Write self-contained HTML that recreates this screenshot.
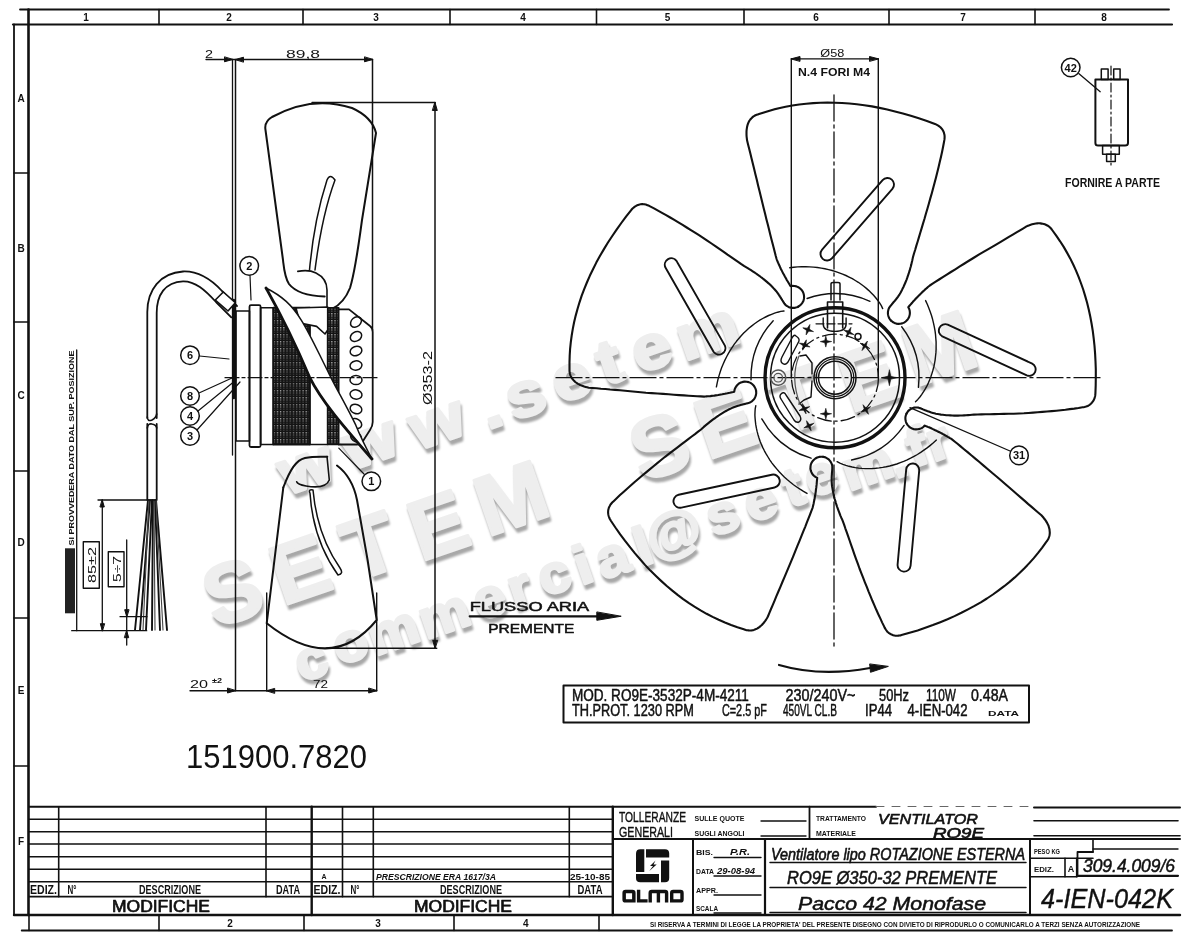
<!DOCTYPE html>
<html><head><meta charset="utf-8"><style>
html,body{margin:0;padding:0;background:#fff;width:1200px;height:942px;overflow:hidden}
svg{display:block}
</style></head><body>
<svg width="1200" height="942" viewBox="0 0 1200 942">
<defs><filter id="blr" x="-10%" y="-10%" width="120%" height="120%"><feGaussianBlur stdDeviation="0.9"/></filter></defs>
<g font-family="'Liberation Sans', sans-serif" font-weight="bold" fill="#a8a8a8" stroke="#a8a8a8" stroke-linejoin="round" filter="url(#blr)"><text transform="translate(288.6,499.8) rotate(-19.0) scale(1.12,1)" font-size="62" stroke-width="3.2">w</text><text transform="translate(352.6,474.8) rotate(-19.0) scale(1.12,1)" font-size="62" stroke-width="3.2">w</text><text transform="translate(419.6,454.8) rotate(-19.0) scale(1.12,1)" font-size="62" stroke-width="3.2">w</text><text transform="translate(489.2,434.0) rotate(-19.0) scale(1.12,1)" font-size="62" stroke-width="3.2">.</text><text transform="translate(515.1,425.2) rotate(-19.0) scale(1.12,1)" font-size="62" stroke-width="3.2">s</text><text transform="translate(560.7,408.3) rotate(-19.0) scale(1.12,1)" font-size="62" stroke-width="3.2">e</text><text transform="translate(606.4,390.1) rotate(-19.0) scale(1.12,1)" font-size="62" stroke-width="3.2">t</text><text transform="translate(640.7,378.3) rotate(-19.0) scale(1.12,1)" font-size="62" stroke-width="3.2">e</text><text transform="translate(685.9,365.4) rotate(-19.0) scale(1.12,1)" font-size="62" stroke-width="3.2">m</text><text transform="translate(217.0,632.7) rotate(-19.0) scale(1.0,1)" font-size="84" stroke-width="3">S</text><text transform="translate(284.4,610.2) rotate(-19.0) scale(1.0,1)" font-size="84" stroke-width="3">E</text><text transform="translate(356.6,586.1) rotate(-19.0) scale(1.0,1)" font-size="84" stroke-width="3">T</text><text transform="translate(422.5,566.0) rotate(-19.0) scale(1.0,1)" font-size="84" stroke-width="3">E</text><text transform="translate(489.1,541.2) rotate(-19.0) scale(1.0,1)" font-size="84" stroke-width="3">M</text><text transform="translate(644.1,486.8) rotate(-19.0) scale(1.0,1)" font-size="84" stroke-width="3">S</text><text transform="translate(709.6,464.3) rotate(-19.0) scale(1.0,1)" font-size="84" stroke-width="3">E</text><text transform="translate(784.9,439.2) rotate(-19.0) scale(1.0,1)" font-size="84" stroke-width="3">T</text><text transform="translate(852.6,417.3) rotate(-19.0) scale(1.0,1)" font-size="84" stroke-width="3">E</text><text transform="translate(917.1,391.2) rotate(-19.0) scale(1.0,1)" font-size="84" stroke-width="3">M</text><text transform="translate(303.3,686.7) rotate(-19.0) scale(1.05,1)" font-size="54" stroke-width="3">c</text><text transform="translate(341.1,670.1) rotate(-19.0) scale(1.05,1)" font-size="54" stroke-width="3">o</text><text transform="translate(376.6,660.5) rotate(-19.0) scale(1.05,1)" font-size="54" stroke-width="3">m</text><text transform="translate(427.6,644.0) rotate(-19.0) scale(1.05,1)" font-size="54" stroke-width="3">m</text><text transform="translate(481.4,625.2) rotate(-19.0) scale(1.05,1)" font-size="54" stroke-width="3">e</text><text transform="translate(516.2,612.8) rotate(-19.0) scale(1.05,1)" font-size="54" stroke-width="3">r</text><text transform="translate(546.3,601.2) rotate(-19.0) scale(1.05,1)" font-size="54" stroke-width="3">c</text><text transform="translate(582.7,589.6) rotate(-19.0) scale(1.05,1)" font-size="54" stroke-width="3">i</text><text transform="translate(604.6,583.9) rotate(-19.0) scale(1.05,1)" font-size="54" stroke-width="3">a</text><text transform="translate(642.7,571.1) rotate(-19.0) scale(1.05,1)" font-size="54" stroke-width="3">l</text><text transform="translate(654.5,563.1) rotate(-19.0) scale(1.05,1)" font-size="54" stroke-width="3">@</text><text transform="translate(714.7,541.1) rotate(-19.0) scale(1.05,1)" font-size="54" stroke-width="3">s</text><text transform="translate(752.4,527.2) rotate(-19.0) scale(1.05,1)" font-size="54" stroke-width="3">e</text><text transform="translate(791.5,512.0) rotate(-19.0) scale(1.05,1)" font-size="54" stroke-width="3">t</text><text transform="translate(812.9,502.2) rotate(-19.0) scale(1.05,1)" font-size="54" stroke-width="3">e</text><text transform="translate(850.6,495.5) rotate(-19.0) scale(1.05,1)" font-size="54" stroke-width="3">m</text><text transform="translate(897.2,482.9) rotate(-19.0) scale(1.05,1)" font-size="54" stroke-width="3">.</text><text transform="translate(915.2,471.7) rotate(-19.0) scale(1.05,1)" font-size="54" stroke-width="3">f</text><text transform="translate(934.7,466.3) rotate(-19.0) scale(1.05,1)" font-size="54" stroke-width="3">r</text></g>
<g font-family="'Liberation Sans', sans-serif" font-weight="bold" fill="#eeeeee" stroke="#eeeeee" stroke-linejoin="round"><text transform="translate(287.1,495.3) rotate(-19.0) scale(1.12,1)" font-size="62" stroke-width="3.2">w</text><text transform="translate(351.1,470.3) rotate(-19.0) scale(1.12,1)" font-size="62" stroke-width="3.2">w</text><text transform="translate(418.1,450.3) rotate(-19.0) scale(1.12,1)" font-size="62" stroke-width="3.2">w</text><text transform="translate(487.7,429.5) rotate(-19.0) scale(1.12,1)" font-size="62" stroke-width="3.2">.</text><text transform="translate(513.6,420.7) rotate(-19.0) scale(1.12,1)" font-size="62" stroke-width="3.2">s</text><text transform="translate(559.2,403.8) rotate(-19.0) scale(1.12,1)" font-size="62" stroke-width="3.2">e</text><text transform="translate(604.9,385.6) rotate(-19.0) scale(1.12,1)" font-size="62" stroke-width="3.2">t</text><text transform="translate(639.2,373.8) rotate(-19.0) scale(1.12,1)" font-size="62" stroke-width="3.2">e</text><text transform="translate(684.4,360.9) rotate(-19.0) scale(1.12,1)" font-size="62" stroke-width="3.2">m</text><text transform="translate(215.5,628.2) rotate(-19.0) scale(1.0,1)" font-size="84" stroke-width="3">S</text><text transform="translate(282.9,605.7) rotate(-19.0) scale(1.0,1)" font-size="84" stroke-width="3">E</text><text transform="translate(355.1,581.6) rotate(-19.0) scale(1.0,1)" font-size="84" stroke-width="3">T</text><text transform="translate(421.0,561.5) rotate(-19.0) scale(1.0,1)" font-size="84" stroke-width="3">E</text><text transform="translate(487.6,536.7) rotate(-19.0) scale(1.0,1)" font-size="84" stroke-width="3">M</text><text transform="translate(642.6,482.3) rotate(-19.0) scale(1.0,1)" font-size="84" stroke-width="3">S</text><text transform="translate(708.1,459.8) rotate(-19.0) scale(1.0,1)" font-size="84" stroke-width="3">E</text><text transform="translate(783.4,434.7) rotate(-19.0) scale(1.0,1)" font-size="84" stroke-width="3">T</text><text transform="translate(851.1,412.8) rotate(-19.0) scale(1.0,1)" font-size="84" stroke-width="3">E</text><text transform="translate(915.6,386.7) rotate(-19.0) scale(1.0,1)" font-size="84" stroke-width="3">M</text><text transform="translate(301.8,682.2) rotate(-19.0) scale(1.05,1)" font-size="54" stroke-width="3">c</text><text transform="translate(339.6,665.6) rotate(-19.0) scale(1.05,1)" font-size="54" stroke-width="3">o</text><text transform="translate(375.1,656.0) rotate(-19.0) scale(1.05,1)" font-size="54" stroke-width="3">m</text><text transform="translate(426.1,639.5) rotate(-19.0) scale(1.05,1)" font-size="54" stroke-width="3">m</text><text transform="translate(479.9,620.7) rotate(-19.0) scale(1.05,1)" font-size="54" stroke-width="3">e</text><text transform="translate(514.7,608.3) rotate(-19.0) scale(1.05,1)" font-size="54" stroke-width="3">r</text><text transform="translate(544.8,596.7) rotate(-19.0) scale(1.05,1)" font-size="54" stroke-width="3">c</text><text transform="translate(581.2,585.1) rotate(-19.0) scale(1.05,1)" font-size="54" stroke-width="3">i</text><text transform="translate(603.1,579.4) rotate(-19.0) scale(1.05,1)" font-size="54" stroke-width="3">a</text><text transform="translate(641.2,566.6) rotate(-19.0) scale(1.05,1)" font-size="54" stroke-width="3">l</text><text transform="translate(653.0,558.6) rotate(-19.0) scale(1.05,1)" font-size="54" stroke-width="3">@</text><text transform="translate(713.2,536.6) rotate(-19.0) scale(1.05,1)" font-size="54" stroke-width="3">s</text><text transform="translate(750.9,522.7) rotate(-19.0) scale(1.05,1)" font-size="54" stroke-width="3">e</text><text transform="translate(790.0,507.5) rotate(-19.0) scale(1.05,1)" font-size="54" stroke-width="3">t</text><text transform="translate(811.4,497.7) rotate(-19.0) scale(1.05,1)" font-size="54" stroke-width="3">e</text><text transform="translate(849.1,491.0) rotate(-19.0) scale(1.05,1)" font-size="54" stroke-width="3">m</text><text transform="translate(895.7,478.4) rotate(-19.0) scale(1.05,1)" font-size="54" stroke-width="3">.</text><text transform="translate(913.7,467.2) rotate(-19.0) scale(1.05,1)" font-size="54" stroke-width="3">f</text><text transform="translate(933.2,461.8) rotate(-19.0) scale(1.05,1)" font-size="54" stroke-width="3">r</text></g>
<g fill="none" stroke="#111" stroke-linecap="round" stroke-linejoin="round">
<line x1="20" y1="9.5" x2="1169" y2="9.5" stroke-width="1.8" />
<line x1="13" y1="24.5" x2="1172" y2="24.5" stroke-width="2.2" />
<line x1="28.5" y1="9.5" x2="28.5" y2="915" stroke-width="2.6" />
<line x1="14" y1="24.5" x2="14" y2="915" stroke-width="1.8" />
<line x1="14" y1="173" x2="28.5" y2="173" stroke-width="1.6" />
<line x1="14" y1="322" x2="28.5" y2="322" stroke-width="1.6" />
<line x1="14" y1="471" x2="28.5" y2="471" stroke-width="1.6" />
<line x1="14" y1="618" x2="28.5" y2="618" stroke-width="1.6" />
<line x1="14" y1="766" x2="28.5" y2="766" stroke-width="1.6" />
<line x1="159" y1="9.5" x2="159" y2="24.5" stroke-width="1.6" />
<line x1="303" y1="9.5" x2="303" y2="24.5" stroke-width="1.6" />
<line x1="450" y1="9.5" x2="450" y2="24.5" stroke-width="1.6" />
<line x1="596.5" y1="9.5" x2="596.5" y2="24.5" stroke-width="1.6" />
<line x1="744" y1="9.5" x2="744" y2="24.5" stroke-width="1.6" />
<line x1="889" y1="9.5" x2="889" y2="24.5" stroke-width="1.6" />
<line x1="1035" y1="9.5" x2="1035" y2="24.5" stroke-width="1.6" />
<text  x="86" y="21" font-size="10" font-weight="bold" font-style="normal" font-family="'Liberation Sans', sans-serif" text-anchor="middle" fill="#111" stroke="none">1</text>
<text  x="229" y="21" font-size="10" font-weight="bold" font-style="normal" font-family="'Liberation Sans', sans-serif" text-anchor="middle" fill="#111" stroke="none">2</text>
<text  x="376" y="21" font-size="10" font-weight="bold" font-style="normal" font-family="'Liberation Sans', sans-serif" text-anchor="middle" fill="#111" stroke="none">3</text>
<text  x="523" y="21" font-size="10" font-weight="bold" font-style="normal" font-family="'Liberation Sans', sans-serif" text-anchor="middle" fill="#111" stroke="none">4</text>
<text  x="667.5" y="21" font-size="10" font-weight="bold" font-style="normal" font-family="'Liberation Sans', sans-serif" text-anchor="middle" fill="#111" stroke="none">5</text>
<text  x="816" y="21" font-size="10" font-weight="bold" font-style="normal" font-family="'Liberation Sans', sans-serif" text-anchor="middle" fill="#111" stroke="none">6</text>
<text  x="963" y="21" font-size="10" font-weight="bold" font-style="normal" font-family="'Liberation Sans', sans-serif" text-anchor="middle" fill="#111" stroke="none">7</text>
<text  x="1104" y="21" font-size="10" font-weight="bold" font-style="normal" font-family="'Liberation Sans', sans-serif" text-anchor="middle" fill="#111" stroke="none">8</text>
<text  x="21" y="102" font-size="10" font-weight="bold" font-style="normal" font-family="'Liberation Sans', sans-serif" text-anchor="middle" fill="#111" stroke="none">A</text>
<text  x="21" y="252" font-size="10" font-weight="bold" font-style="normal" font-family="'Liberation Sans', sans-serif" text-anchor="middle" fill="#111" stroke="none">B</text>
<text  x="21" y="399" font-size="10" font-weight="bold" font-style="normal" font-family="'Liberation Sans', sans-serif" text-anchor="middle" fill="#111" stroke="none">C</text>
<text  x="21" y="546" font-size="10" font-weight="bold" font-style="normal" font-family="'Liberation Sans', sans-serif" text-anchor="middle" fill="#111" stroke="none">D</text>
<text  x="21" y="694" font-size="10" font-weight="bold" font-style="normal" font-family="'Liberation Sans', sans-serif" text-anchor="middle" fill="#111" stroke="none">E</text>
<text  x="21" y="845" font-size="10" font-weight="bold" font-style="normal" font-family="'Liberation Sans', sans-serif" text-anchor="middle" fill="#111" stroke="none">F</text>
<line x1="14" y1="915" x2="1180" y2="915" stroke-width="2.4" />
<line x1="21.7" y1="930.5" x2="1172" y2="930.5" stroke-width="1.8" />
<line x1="29" y1="915" x2="29" y2="930.5" stroke-width="1.6" />
<line x1="159" y1="915" x2="159" y2="930.5" stroke-width="1.6" />
<line x1="304" y1="915" x2="304" y2="930.5" stroke-width="1.6" />
<line x1="454" y1="915" x2="454" y2="930.5" stroke-width="1.6" />
<line x1="599" y1="915" x2="599" y2="930.5" stroke-width="1.6" />
<text  x="230" y="927" font-size="10" font-weight="bold" font-style="normal" font-family="'Liberation Sans', sans-serif" text-anchor="middle" fill="#111" stroke="none">2</text>
<text  x="378" y="927" font-size="10" font-weight="bold" font-style="normal" font-family="'Liberation Sans', sans-serif" text-anchor="middle" fill="#111" stroke="none">3</text>
<text  x="525.7" y="927" font-size="10" font-weight="bold" font-style="normal" font-family="'Liberation Sans', sans-serif" text-anchor="middle" fill="#111" stroke="none">4</text>
<text  x="650" y="926.5" font-size="7" font-weight="bold" font-style="normal" font-family="'Liberation Sans', sans-serif" text-anchor="start" textLength="490" lengthAdjust="spacingAndGlyphs" fill="#111" stroke="none">SI RISERVA A TERMINI DI LEGGE LA PROPRIETA' DEL PRESENTE DISEGNO CON DIVIETO DI RIPRODURLO O COMUNICARLO A TERZI SENZA AUTORIZZAZIONE</text>
<line x1="29" y1="806.7" x2="876" y2="806.7" stroke-width="2.0" />
<line x1="876" y1="806.5" x2="1034" y2="806.5" stroke-width="1.0" stroke-dasharray="8 8" stroke="#666"/>
<line x1="1034" y1="807.5" x2="1180" y2="807.5" stroke-width="2.0" />
<line x1="29" y1="819.3" x2="612.3" y2="819.3" stroke-width="1.5" />
<line x1="29" y1="831.7" x2="612.3" y2="831.7" stroke-width="1.5" />
<line x1="29" y1="844" x2="612.3" y2="844" stroke-width="1.5" />
<line x1="29" y1="856.7" x2="612.3" y2="856.7" stroke-width="1.5" />
<line x1="29" y1="869.3" x2="612.3" y2="869.3" stroke-width="1.5" />
<line x1="29" y1="881.7" x2="612.3" y2="881.7" stroke-width="1.5" />
<line x1="29" y1="896.7" x2="612.3" y2="896.7" stroke-width="1.8" />
<line x1="58.7" y1="806.7" x2="58.7" y2="896.7" stroke-width="1.6" />
<line x1="266" y1="806.7" x2="266" y2="896.7" stroke-width="1.6" />
<line x1="342.5" y1="806.7" x2="342.5" y2="896.7" stroke-width="1.6" />
<line x1="373.3" y1="806.7" x2="373.3" y2="896.7" stroke-width="1.6" />
<line x1="569.3" y1="806.7" x2="569.3" y2="896.7" stroke-width="1.6" />
<line x1="311.7" y1="806.7" x2="311.7" y2="915" stroke-width="2.4" />
<line x1="612.8" y1="806.7" x2="612.8" y2="915" stroke-width="2.4" />
<text  x="43.5" y="894" font-size="12" font-weight="bold" font-style="normal" font-family="'Liberation Sans', sans-serif" text-anchor="middle" textLength="27" lengthAdjust="spacingAndGlyphs" fill="#111" stroke="none">EDIZ.</text>
<text  x="72" y="894" font-size="12" font-weight="bold" font-style="normal" font-family="'Liberation Sans', sans-serif" text-anchor="middle" textLength="9" lengthAdjust="spacingAndGlyphs" fill="#111" stroke="none">N°</text>
<text  x="170" y="894" font-size="12" font-weight="bold" font-style="normal" font-family="'Liberation Sans', sans-serif" text-anchor="middle" textLength="62" lengthAdjust="spacingAndGlyphs" fill="#111" stroke="none">DESCRIZIONE</text>
<text  x="288" y="894" font-size="12" font-weight="bold" font-style="normal" font-family="'Liberation Sans', sans-serif" text-anchor="middle" textLength="24" lengthAdjust="spacingAndGlyphs" fill="#111" stroke="none">DATA</text>
<text  x="327" y="894" font-size="12" font-weight="bold" font-style="normal" font-family="'Liberation Sans', sans-serif" text-anchor="middle" textLength="27" lengthAdjust="spacingAndGlyphs" fill="#111" stroke="none">EDIZ.</text>
<text  x="355" y="894" font-size="12" font-weight="bold" font-style="normal" font-family="'Liberation Sans', sans-serif" text-anchor="middle" textLength="9" lengthAdjust="spacingAndGlyphs" fill="#111" stroke="none">N°</text>
<text  x="471" y="894" font-size="12" font-weight="bold" font-style="normal" font-family="'Liberation Sans', sans-serif" text-anchor="middle" textLength="62" lengthAdjust="spacingAndGlyphs" fill="#111" stroke="none">DESCRIZIONE</text>
<text  x="590" y="894" font-size="12" font-weight="bold" font-style="normal" font-family="'Liberation Sans', sans-serif" text-anchor="middle" textLength="25" lengthAdjust="spacingAndGlyphs" fill="#111" stroke="none">DATA</text>
<text stroke="#111" stroke-width="0.7" x="161" y="912" font-size="16" font-weight="normal" font-style="normal" font-family="'Liberation Sans', sans-serif" text-anchor="middle" textLength="98" lengthAdjust="spacingAndGlyphs" fill="#111" stroke="none">MODIFICHE</text>
<text stroke="#111" stroke-width="0.7" x="463" y="912" font-size="16" font-weight="normal" font-style="normal" font-family="'Liberation Sans', sans-serif" text-anchor="middle" textLength="98" lengthAdjust="spacingAndGlyphs" fill="#111" stroke="none">MODIFICHE</text>
<text  x="324" y="879" font-size="7" font-weight="bold" font-style="normal" font-family="'Liberation Sans', sans-serif" text-anchor="middle" fill="#111" stroke="none">A</text>
<text  x="376" y="879.5" font-size="9.2" font-weight="bold" font-style="italic" font-family="'Liberation Sans', sans-serif" text-anchor="start" textLength="120" lengthAdjust="spacingAndGlyphs" fill="#111" stroke="none">PRESCRIZIONE ERA 1617/3A</text>
<text  x="590" y="879.5" font-size="9.5" font-weight="bold" font-style="normal" font-family="'Liberation Sans', sans-serif" text-anchor="middle" textLength="40" lengthAdjust="spacingAndGlyphs" fill="#111" stroke="none">25-10-85</text>
<line x1="612.8" y1="839" x2="1180" y2="839" stroke-width="2.0" />
<line x1="693" y1="839" x2="693" y2="915" stroke-width="2.0" />
<line x1="765" y1="839" x2="765" y2="915" stroke-width="2.2" />
<line x1="809.5" y1="806.7" x2="809.5" y2="839" stroke-width="1.8" />
<line x1="1030" y1="839" x2="1030" y2="915" stroke-width="2.0" />
<text stroke="#111" stroke-width="0.4" x="619" y="821.5" font-size="14.5" font-weight="normal" font-style="normal" font-family="'Liberation Sans', sans-serif" text-anchor="start" textLength="67" lengthAdjust="spacingAndGlyphs" fill="#111" stroke="none">TOLLERANZE</text>
<text stroke="#111" stroke-width="0.4" x="619" y="836.5" font-size="14.5" font-weight="normal" font-style="normal" font-family="'Liberation Sans', sans-serif" text-anchor="start" textLength="54" lengthAdjust="spacingAndGlyphs" fill="#111" stroke="none">GENERALI</text>
<text  x="694.5" y="821" font-size="8" font-weight="bold" font-style="normal" font-family="'Liberation Sans', sans-serif" text-anchor="start" textLength="50" lengthAdjust="spacingAndGlyphs" fill="#111" stroke="none">SULLE QUOTE</text>
<text  x="694.5" y="836" font-size="8" font-weight="bold" font-style="normal" font-family="'Liberation Sans', sans-serif" text-anchor="start" textLength="50" lengthAdjust="spacingAndGlyphs" fill="#111" stroke="none">SUGLI ANGOLI</text>
<line x1="761" y1="821" x2="806" y2="821" stroke-width="1.4" />
<line x1="761" y1="836" x2="806" y2="836" stroke-width="1.4" />
<text  x="816" y="821" font-size="8" font-weight="bold" font-style="normal" font-family="'Liberation Sans', sans-serif" text-anchor="start" textLength="50" lengthAdjust="spacingAndGlyphs" fill="#111" stroke="none">TRATTAMENTO</text>
<text  x="816" y="836" font-size="8" font-weight="bold" font-style="normal" font-family="'Liberation Sans', sans-serif" text-anchor="start" textLength="40" lengthAdjust="spacingAndGlyphs" fill="#111" stroke="none">MATERIALE</text>
<text stroke="#111" stroke-width="0.6" x="878" y="823.5" font-size="15" font-weight="normal" font-style="italic" font-family="'Liberation Sans', sans-serif" text-anchor="start" textLength="100" lengthAdjust="spacingAndGlyphs" fill="#111" stroke="none">VENTILATOR</text>
<text stroke="#111" stroke-width="0.6" x="933" y="838" font-size="14" font-weight="normal" font-style="italic" font-family="'Liberation Sans', sans-serif" text-anchor="start" textLength="51" lengthAdjust="spacingAndGlyphs" fill="#111" stroke="none">RO9E</text>
<line x1="1034" y1="820.8" x2="1178" y2="820.8" stroke-width="1.6" />
<line x1="1034" y1="835.8" x2="1180" y2="835.8" stroke-width="1.6" />
<g fill="#111" stroke="none">
<path d="M644.3 849.2 L644.3 872 L636 872 L636 853.5 Q636 849.2 640.3 849.2 Z"/>
<path d="M646 849.2 L665 849.2 Q669.2 849.2 669.2 853.5 L669.2 857.5 L646 857.5 Z"/>
<path d="M661 860.4 L669.2 860.4 L669.2 878 Q669.2 882.3 665 882.3 L661 882.3 Z"/>
<path d="M636 874 L659 874 L659 882.3 L640.3 882.3 Q636 882.3 636 878 Z"/>
<path d="M655.5 860.4 L650 866 L653 866 L649.3 871.1 L656.7 864.5 L653.5 864.5 Z"/>
<path d="M622.4 893 Q622.4 889.8 625.6 889.8 L632.4 889.8 Q635.6 889.8 635.6 893 L635.6 902.6 L625.6 902.6 Q622.4 902.6 622.4 899.4 Z M625.9 893.2 L625.9 899.3 L632.1 899.3 L632.1 893.2 Z" fill-rule="evenodd"/>
<path d="M636.9 889.8 L640.3 889.8 L640.3 899.3 L647.6 899.3 L647.6 902.6 L636.9 902.6 Z"/>
<path d="M648.5 902.6 L648.5 893 Q648.5 889.8 651.7 889.8 L665.1 889.8 Q668.3 889.8 668.3 893 L668.3 902.6 L664.9 902.6 L664.9 893.2 L660.1 893.2 L660.1 902.6 L656.7 902.6 L656.7 893.2 L651.9 893.2 L651.9 902.6 Z"/>
<path d="M670 893 Q670 889.8 673.2 889.8 L680.5 889.8 Q683.7 889.8 683.7 893 L683.7 899.4 Q683.7 902.6 680.5 902.6 L673.2 902.6 L673.2 899.3 L680.3 899.3 L680.3 893.2 L673.4 893.2 L673.4 902.6 L670 902.6 Z"/>
</g>
<text  x="696" y="855" font-size="8" font-weight="bold" font-style="normal" font-family="'Liberation Sans', sans-serif" text-anchor="start" textLength="17" lengthAdjust="spacingAndGlyphs" fill="#111" stroke="none">BIS.</text>
<text  x="696" y="874" font-size="8" font-weight="bold" font-style="normal" font-family="'Liberation Sans', sans-serif" text-anchor="start" textLength="18" lengthAdjust="spacingAndGlyphs" fill="#111" stroke="none">DATA</text>
<text  x="696" y="893" font-size="8" font-weight="bold" font-style="normal" font-family="'Liberation Sans', sans-serif" text-anchor="start" textLength="22" lengthAdjust="spacingAndGlyphs" fill="#111" stroke="none">APPR.</text>
<text  x="696" y="911" font-size="8" font-weight="bold" font-style="normal" font-family="'Liberation Sans', sans-serif" text-anchor="start" textLength="22" lengthAdjust="spacingAndGlyphs" fill="#111" stroke="none">SCALA</text>
<line x1="714" y1="857.5" x2="761" y2="857.5" stroke-width="1.4" />
<line x1="714" y1="876" x2="761" y2="876" stroke-width="1.4" />
<line x1="714" y1="895" x2="761" y2="895" stroke-width="1.4" />
<line x1="714" y1="913" x2="761" y2="913" stroke-width="1.4" />
<text  x="740" y="855" font-size="9" font-weight="bold" font-style="italic" font-family="'Liberation Sans', sans-serif" text-anchor="middle" textLength="20" lengthAdjust="spacingAndGlyphs" fill="#111" stroke="none">P.R.</text>
<text  x="736" y="874" font-size="8.5" font-weight="bold" font-style="italic" font-family="'Liberation Sans', sans-serif" text-anchor="middle" textLength="38" lengthAdjust="spacingAndGlyphs" fill="#111" stroke="none">29-08-94</text>
<text stroke="#111" stroke-width="0.6" x="771" y="859.5" font-size="17" font-weight="normal" font-style="italic" font-family="'Liberation Sans', sans-serif" text-anchor="start" textLength="254" lengthAdjust="spacingAndGlyphs" fill="#111" stroke="none">Ventilatore lipo ROTAZIONE ESTERNA</text>
<line x1="770" y1="862.5" x2="1026" y2="862.5" stroke-width="1.5" />
<text stroke="#111" stroke-width="0.5" x="787" y="884" font-size="18" font-weight="normal" font-style="italic" font-family="'Liberation Sans', sans-serif" text-anchor="start" textLength="210" lengthAdjust="spacingAndGlyphs" fill="#111" stroke="none">RO9E Ø350-32 PREMENTE</text>
<line x1="770" y1="887.5" x2="1026" y2="887.5" stroke-width="1.5" />
<text stroke="#111" stroke-width="0.5" x="798" y="909.5" font-size="18" font-weight="normal" font-style="italic" font-family="'Liberation Sans', sans-serif" text-anchor="start" textLength="188" lengthAdjust="spacingAndGlyphs" fill="#111" stroke="none">Pacco 42 Monofase</text>
<line x1="770" y1="912.5" x2="1026" y2="912.5" stroke-width="1.5" />
<line x1="1030" y1="858.3" x2="1093" y2="858.3" stroke-width="1.6" />
<line x1="1093" y1="839" x2="1093" y2="852" stroke-width="1.6" />
<line x1="1030" y1="876.7" x2="1077" y2="876.7" stroke-width="1.6" />
<line x1="1065" y1="858.3" x2="1065" y2="876.7" stroke-width="1.6" />
<line x1="1076.7" y1="858.3" x2="1076.7" y2="876.7" stroke-width="1.6" />
<line x1="1093" y1="849" x2="1178" y2="849" stroke-width="1.4" />
<text  x="1034" y="854" font-size="7" font-weight="bold" font-style="normal" font-family="'Liberation Sans', sans-serif" text-anchor="start" textLength="26" lengthAdjust="spacingAndGlyphs" fill="#111" stroke="none">PESO KG</text>
<text  x="1034" y="872" font-size="7" font-weight="bold" font-style="normal" font-family="'Liberation Sans', sans-serif" text-anchor="start" textLength="20" lengthAdjust="spacingAndGlyphs" fill="#111" stroke="none">EDIZ.</text>
<text  x="1071" y="872" font-size="9" font-weight="bold" font-style="normal" font-family="'Liberation Sans', sans-serif" text-anchor="middle" fill="#111" stroke="none">A</text>
<path d="M1077.5 876 L1077.5 852 L1093 852" stroke-width="1.8"/>
<line x1="1077.5" y1="875.8" x2="1178" y2="875.8" stroke-width="2.2" />
<text stroke="#111" stroke-width="0.5" x="1083" y="872" font-size="18" font-weight="normal" font-style="italic" font-family="'Liberation Sans', sans-serif" text-anchor="start" textLength="92" lengthAdjust="spacingAndGlyphs" fill="#111" stroke="none">309.4.009/6</text>
<text stroke="#111" stroke-width="0.4" x="1041" y="908" font-size="27" font-weight="normal" font-style="italic" font-family="'Liberation Sans', sans-serif" text-anchor="start" textLength="132" lengthAdjust="spacingAndGlyphs" fill="#111" stroke="none">4-IEN-042K</text>
<path d="M798.2 306.7 L799.8 305.6 L801.3 304.2 L802.5 302.6 L803.4 300.9 L803.9 298.9 L804.1 297.0 L803.9 295.0 L803.4 293.1 L802.6 291.3 L801.4 289.7 L799.9 288.3 L798.3 287.2 L796.4 286.4 L794.5 286.0 L792.5 285.9 L790.6 286.2 L790.0 285.3 L789.4 284.3 L788.8 283.3 L788.2 282.3 L787.6 281.3 L786.9 280.2 L786.3 279.1 L785.7 277.9 L785.0 276.8 L784.4 275.6 L783.8 274.5 L783.1 273.3 L782.5 272.1 L781.9 270.9 L781.3 269.7 L780.7 268.5 L780.1 267.2 L779.6 266.0 L779.0 264.8 L778.5 263.6 L778.0 262.5 L777.5 261.3 L777.0 260.1 L776.6 259.0 L775.7 255.8 L774.8 252.2 L773.8 248.3 L772.7 244.1 L771.5 239.6 L770.3 234.8 L769.1 229.8 L767.8 224.6 L766.4 219.2 L765.1 213.8 L763.7 208.2 L762.3 202.5 L760.9 196.8 L759.5 191.1 L758.1 185.4 L756.8 179.7 L755.4 174.2 L754.1 168.7 L752.8 163.4 L751.5 158.3 L750.3 153.3 L749.1 148.6 L748.0 144.2 L747.0 140.0 L746.8 138.2 L746.6 136.5 L746.5 134.8 L746.5 133.2 L746.5 131.6 L746.6 130.1 L746.8 128.7 L747.0 127.3 L747.3 126.0 L747.6 124.8 L748.0 123.6 L748.5 122.5 L749.0 121.4 L749.6 120.5 L750.3 119.5 L751.0 118.7 L751.8 117.9 L752.6 117.1 L753.5 116.4 L754.5 115.8 L755.5 115.3 L756.6 114.8 L757.8 114.4 L759.0 114.0 L765.5 111.9 L772.1 109.9 L778.8 108.2 L785.6 106.8 L792.4 105.5 L799.2 104.5 L806.2 103.7 L813.2 103.1 L820.3 102.8 L827.5 102.6 L834.7 102.7 L842.0 103.0 L849.4 103.5 L856.8 104.3 L864.3 105.2 L871.9 106.4 L879.5 107.9 L887.2 109.5 L895.0 111.4 L902.9 113.4 L910.8 115.8 L918.8 118.3 L926.9 121.0 L935.0 124.0 L936.0 124.4 L936.9 124.9 L937.8 125.4 L938.6 125.9 L939.3 126.4 L940.1 127.0 L940.7 127.6 L941.3 128.2 L941.9 128.9 L942.4 129.6 L942.8 130.3 L943.2 131.0 L943.6 131.8 L943.9 132.6 L944.1 133.4 L944.3 134.2 L944.5 135.1 L944.6 136.0 L944.6 136.9 L944.6 137.9 L944.5 138.9 L944.4 139.9 L944.2 140.9 L944.0 142.0 L943.1 146.8 L942.1 151.7 L941.0 156.7 L939.8 161.8 L938.6 167.0 L937.3 172.2 L936.0 177.4 L934.6 182.7 L933.2 188.0 L931.8 193.2 L930.3 198.4 L928.9 203.6 L927.4 208.8 L925.9 213.8 L924.5 218.8 L923.0 223.6 L921.6 228.4 L920.2 233.0 L918.9 237.4 L917.6 241.7 L916.3 245.9 L915.2 249.8 L914.0 253.5 L913.0 257.0 L912.6 258.9 L912.2 260.8 L911.7 262.7 L911.3 264.6 L910.8 266.5 L910.2 268.5 L909.7 270.4 L909.1 272.3 L908.5 274.2 L907.8 276.1 L907.2 277.9 L906.5 279.8 L905.8 281.5 L905.1 283.3 L904.3 285.0 L903.6 286.7 L902.8 288.3 L902.0 289.9 L901.2 291.4 L900.4 292.9 L899.6 294.3 L898.7 295.6 L897.9 296.8 L897.0 298.0 L896.6 298.5 L896.3 299.0 L895.9 299.5 L895.5 299.9 L895.1 300.4 L894.8 300.8 L894.4 301.3 L894.0 301.7 L893.7 302.1 L893.3 302.5 L893.0 302.9 L892.7 303.3 L892.3 303.7 L892.0 304.1 L891.7 304.5 L891.4 304.8 L891.1 305.2 L890.8 305.5 L890.5 305.9 L890.3 306.2 L890.0 306.5 L889.8 306.9 L889.5 307.2 L889.3 307.5 L888.7 308.8 L888.3 310.1 L888.0 311.5 L887.9 313.0 L888.0 314.4 L888.3 315.8 L888.8 317.2 L889.4 318.5 L890.2 319.7 L891.2 320.7" stroke-width="2.1" />
<path d="M882.6 180.2 L822.1 249.7 A6.5 6.5 0 0 0 831.9 258.3 L892.4 188.8 A6.5 6.5 0 0 0 882.6 180.2 Z" stroke-width="1.9" />
<path d="M891.2 320.7 L892.7 322.0 L894.4 322.9 L896.3 323.6 L898.3 323.9 L900.3 323.8 L902.2 323.4 L904.1 322.6 L905.7 321.5 L907.2 320.1 L908.3 318.5 L909.2 316.7 L909.7 314.8 L909.9 312.8 L909.7 310.8 L909.2 308.9 L908.3 307.2 L909.0 306.3 L909.7 305.5 L910.5 304.6 L911.3 303.7 L912.1 302.8 L912.9 301.8 L913.7 300.9 L914.6 300.0 L915.5 299.0 L916.4 298.0 L917.4 297.1 L918.3 296.1 L919.2 295.2 L920.2 294.2 L921.2 293.3 L922.1 292.3 L923.1 291.4 L924.1 290.5 L925.0 289.6 L926.0 288.7 L927.0 287.9 L927.9 287.0 L928.9 286.2 L929.8 285.5 L932.6 283.7 L935.7 281.7 L939.1 279.5 L942.8 277.1 L946.8 274.6 L950.9 272.0 L955.3 269.3 L959.8 266.4 L964.5 263.5 L969.3 260.5 L974.2 257.5 L979.2 254.4 L983.5 251.9 L987.9 249.3 L992.2 246.8 L996.5 244.3 L1000.7 241.8 L1004.8 239.3 L1008.9 236.9 L1012.8 234.6 L1016.5 232.4 L1020.0 230.3 L1023.4 228.3 L1026.5 226.4 L1028.0 225.7 L1029.4 225.2 L1030.7 224.7 L1032.1 224.3 L1033.4 224.0 L1034.6 223.7 L1035.9 223.5 L1037.1 223.4 L1038.3 223.3 L1039.4 223.3 L1040.5 223.4 L1041.6 223.6 L1042.7 223.8 L1043.8 224.0 L1044.8 224.3 L1045.8 224.7 L1046.8 225.2 L1047.8 225.7 L1048.7 226.3 L1049.5 227.0 L1050.3 227.8 L1051.1 228.6 L1051.8 229.5 L1052.5 230.5 L1056.4 235.9 L1060.1 241.3 L1063.7 246.9 L1067.0 252.6 L1070.2 258.4 L1073.1 264.3 L1075.9 270.4 L1078.5 276.7 L1080.9 283.0 L1083.2 289.5 L1085.2 296.1 L1087.1 302.8 L1088.8 309.7 L1090.3 316.7 L1091.6 323.8 L1092.8 331.1 L1093.7 338.4 L1094.5 345.9 L1095.1 353.6 L1095.5 361.3 L1095.8 369.2 L1095.8 377.3 L1095.7 385.4 L1095.4 393.7 L1095.3 394.7 L1095.2 395.7 L1095.0 396.6 L1094.7 397.5 L1094.5 398.4 L1094.1 399.2 L1093.8 400.0 L1093.4 400.7 L1092.9 401.4 L1092.4 402.0 L1091.9 402.7 L1091.4 403.3 L1090.9 403.8 L1090.3 404.3 L1089.7 404.8 L1089.1 405.2 L1088.4 405.6 L1087.7 406.0 L1086.9 406.3 L1086.1 406.6 L1085.3 406.8 L1084.5 407.0 L1083.6 407.2 L1082.6 407.3 L1078.5 408.0 L1074.2 408.6 L1069.8 409.1 L1065.4 409.7 L1060.9 410.2 L1056.3 410.7 L1051.7 411.1 L1047.0 411.5 L1042.4 411.9 L1037.7 412.3 L1033.1 412.6 L1028.4 413.0 L1023.9 413.3 L1019.0 413.5 L1013.8 413.7 L1008.7 413.8 L1003.8 413.9 L999.0 414.0 L994.3 414.1 L989.8 414.2 L985.5 414.3 L981.4 414.4 L977.5 414.5 L973.9 414.6 L972.0 414.8 L970.0 415.0 L968.1 415.1 L966.1 415.3 L964.1 415.4 L962.1 415.5 L960.1 415.5 L958.1 415.6 L956.1 415.6 L954.2 415.6 L952.2 415.5 L950.3 415.4 L948.3 415.3 L946.4 415.2 L944.6 415.0 L942.7 414.8 L941.0 414.6 L939.2 414.3 L937.5 414.0 L935.9 413.7 L934.3 413.3 L932.8 412.9 L931.3 412.5 L930.0 412.0 L929.4 411.8 L928.8 411.6 L928.2 411.4 L927.7 411.2 L927.1 411.0 L926.6 410.8 L926.1 410.6 L925.5 410.4 L925.0 410.2 L924.5 410.0 L924.0 409.8 L923.6 409.6 L923.1 409.4 L922.6 409.2 L922.2 409.0 L921.7 408.8 L921.3 408.6 L920.9 408.5 L920.5 408.3 L920.1 408.2 L919.7 408.0 L919.3 407.9 L918.9 407.8 L918.5 407.6 L917.2 407.5 L915.7 407.5 L914.3 407.6 L912.9 408.0 L911.6 408.6 L910.3 409.3 L909.2 410.1 L908.1 411.1 L907.3 412.3 L906.5 413.5" stroke-width="2.1" />
<path d="M942.3 336.4 L1026.8 375.4 A6.5 6.5 0 0 0 1032.2 363.6 L947.7 324.6 A6.5 6.5 0 0 0 942.3 336.4 Z" stroke-width="1.9" />
<path d="M906.6 413.5 L905.8 415.4 L905.4 417.3 L905.4 419.3 L905.8 421.3 L906.4 423.1 L907.5 424.9 L908.8 426.4 L910.3 427.6 L912.1 428.5 L913.9 429.2 L915.9 429.4 L917.9 429.3 L919.8 428.9 L921.7 428.1 L923.3 427.0 L924.7 425.6 L925.7 426.0 L926.8 426.4 L927.9 426.9 L929.0 427.3 L930.1 427.8 L931.2 428.3 L932.4 428.9 L933.5 429.4 L934.7 430.0 L935.9 430.5 L937.1 431.1 L938.3 431.7 L939.5 432.3 L940.7 432.9 L941.9 433.5 L943.1 434.2 L944.3 434.8 L945.5 435.5 L946.6 436.1 L947.8 436.8 L948.9 437.4 L949.9 438.1 L951.0 438.7 L952.0 439.4 L954.6 441.5 L957.5 443.8 L960.6 446.4 L964.0 449.2 L967.6 452.1 L971.3 455.3 L975.3 458.6 L979.4 462.0 L983.6 465.6 L987.9 469.2 L992.3 473.0 L996.8 476.7 L1000.9 480.3 L1004.9 483.8 L1009.0 487.3 L1013.0 490.8 L1017.0 494.3 L1020.9 497.6 L1024.7 500.9 L1028.3 504.1 L1031.9 507.1 L1035.2 510.0 L1038.4 512.7 L1041.4 515.3 L1042.5 516.5 L1043.6 517.8 L1044.5 519.0 L1045.4 520.2 L1046.2 521.4 L1046.9 522.6 L1047.5 523.7 L1048.1 524.9 L1048.6 526.0 L1048.9 527.2 L1049.2 528.3 L1049.5 529.4 L1049.6 530.5 L1049.7 531.7 L1049.8 532.8 L1049.7 533.9 L1049.6 535.0 L1049.3 536.1 L1049.0 537.1 L1048.6 538.2 L1048.1 539.2 L1047.5 540.2 L1046.9 541.2 L1046.1 542.2 L1042.2 547.6 L1038.1 552.9 L1033.8 558.1 L1029.3 563.1 L1024.7 568.0 L1019.8 572.8 L1014.8 577.4 L1009.6 581.9 L1004.2 586.2 L998.6 590.4 L992.9 594.5 L986.9 598.5 L980.8 602.3 L974.5 605.9 L968.0 609.4 L961.4 612.8 L954.5 616.1 L947.5 619.2 L940.3 622.2 L932.9 625.1 L925.3 627.8 L917.6 630.4 L909.6 632.8 L901.5 635.1 L900.5 635.4 L899.5 635.5 L898.5 635.6 L897.6 635.7 L896.7 635.7 L895.8 635.7 L894.9 635.6 L894.1 635.4 L893.3 635.2 L892.5 634.9 L891.7 634.6 L891.0 634.3 L890.3 633.9 L889.6 633.5 L889.0 633.1 L888.3 632.5 L887.7 632.0 L887.1 631.4 L886.6 630.7 L886.1 630.0 L885.6 629.2 L885.1 628.4 L884.6 627.6 L884.2 626.6 L882.2 622.6 L880.3 618.4 L878.3 614.2 L876.3 609.8 L874.4 605.3 L872.4 600.8 L870.5 596.2 L868.6 591.6 L866.8 586.9 L864.9 582.3 L863.1 577.7 L861.3 573.1 L859.5 568.5 L857.8 563.7 L856.0 558.9 L854.3 554.1 L852.7 549.4 L851.1 544.9 L849.6 540.5 L848.1 536.2 L846.7 532.2 L845.3 528.3 L844.1 524.6 L842.8 521.2 L842.1 519.4 L841.3 517.7 L840.5 515.8 L839.8 514.0 L839.1 512.2 L838.4 510.3 L837.7 508.4 L837.0 506.5 L836.4 504.6 L835.8 502.7 L835.3 500.8 L834.7 499.0 L834.2 497.1 L833.8 495.3 L833.4 493.4 L833.0 491.6 L832.7 489.9 L832.4 488.1 L832.1 486.4 L831.9 484.8 L831.8 483.2 L831.7 481.6 L831.7 480.1 L831.7 478.6 L831.7 478.0 L831.7 477.4 L831.7 476.8 L831.8 476.2 L831.8 475.6 L831.8 475.0 L831.9 474.5 L831.9 473.9 L831.9 473.4 L832.0 472.8 L832.0 472.3 L832.1 471.8 L832.1 471.3 L832.2 470.8 L832.2 470.3 L832.2 469.8 L832.3 469.3 L832.3 468.9 L832.3 468.4 L832.3 468.0 L832.3 467.6 L832.3 467.2 L832.3 466.8 L832.3 466.4 L832.1 465.0 L831.6 463.7 L831.0 462.4 L830.2 461.2 L829.3 460.1 L828.3 459.1 L827.1 458.3 L825.8 457.6 L824.4 457.1 L823.0 456.8" stroke-width="2.1" />
<path d="M906.2 469.4 L897.6 564.5 A6.5 6.5 0 0 0 910.6 565.7 L919.2 470.6 A6.5 6.5 0 0 0 906.2 469.4 Z" stroke-width="1.9" />
<path d="M823.0 456.8 L821.1 456.7 L819.1 456.9 L817.2 457.5 L815.4 458.5 L813.9 459.7 L812.5 461.2 L811.5 462.9 L810.8 464.7 L810.5 466.7 L810.4 468.7 L810.8 470.6 L811.5 472.5 L812.5 474.2 L813.9 475.7 L815.4 476.9 L817.2 477.9 L817.1 478.9 L817.0 480.1 L816.9 481.2 L816.8 482.4 L816.7 483.6 L816.6 484.9 L816.4 486.1 L816.3 487.4 L816.1 488.7 L815.9 490.0 L815.8 491.3 L815.6 492.7 L815.4 494.0 L815.2 495.3 L814.9 496.7 L814.7 498.0 L814.5 499.3 L814.2 500.6 L813.9 501.9 L813.7 503.2 L813.4 504.4 L813.1 505.7 L812.8 506.9 L812.5 508.1 L811.3 511.2 L810.0 514.6 L808.5 518.4 L806.9 522.4 L805.2 526.8 L803.3 531.3 L801.4 536.1 L799.4 541.1 L797.3 546.2 L795.2 551.4 L793.0 556.8 L790.8 562.2 L788.7 567.1 L786.6 572.1 L784.5 577.1 L782.4 582.0 L780.4 586.8 L778.4 591.5 L776.4 596.2 L774.6 600.6 L772.8 604.9 L771.0 609.0 L769.4 612.9 L767.9 616.5 L767.1 618.0 L766.3 619.3 L765.4 620.6 L764.5 621.8 L763.6 623.0 L762.7 624.0 L761.8 625.0 L760.9 625.8 L759.9 626.6 L759.0 627.4 L758.0 628.0 L757.0 628.6 L756.0 629.1 L754.9 629.5 L753.9 629.9 L752.8 630.2 L751.7 630.4 L750.6 630.5 L749.5 630.5 L748.4 630.4 L747.3 630.3 L746.1 630.1 L745.0 629.7 L743.8 629.3 L737.4 627.3 L731.1 625.0 L724.9 622.5 L718.7 619.8 L712.6 616.9 L706.6 613.8 L700.6 610.4 L694.8 606.8 L689.0 603.1 L683.2 599.1 L677.6 594.9 L672.0 590.4 L666.5 585.8 L661.1 580.9 L655.7 575.8 L650.4 570.6 L645.2 565.1 L640.1 559.3 L635.0 553.4 L630.0 547.2 L625.1 540.9 L620.2 534.3 L615.4 527.5 L610.7 520.5 L610.2 519.6 L609.7 518.7 L609.3 517.8 L609.0 517.0 L608.7 516.1 L608.5 515.2 L608.3 514.4 L608.2 513.5 L608.1 512.7 L608.1 511.9 L608.2 511.0 L608.2 510.3 L608.4 509.5 L608.6 508.7 L608.8 507.9 L609.1 507.2 L609.5 506.4 L609.9 505.7 L610.3 504.9 L610.8 504.2 L611.4 503.5 L612.0 502.8 L612.7 502.1 L613.4 501.4 L616.7 498.3 L620.0 495.1 L623.5 491.9 L627.1 488.7 L630.7 485.5 L634.4 482.2 L638.2 479.0 L642.0 475.8 L645.8 472.6 L649.7 469.4 L653.5 466.2 L657.3 463.1 L661.1 460.0 L665.1 456.8 L669.2 453.7 L673.2 450.6 L677.2 447.6 L681.0 444.7 L684.7 441.9 L688.3 439.1 L691.7 436.5 L695.0 434.1 L698.1 431.7 L701.0 429.5 L702.4 428.2 L703.8 426.9 L705.3 425.6 L706.8 424.4 L708.4 423.1 L709.9 421.9 L711.5 420.6 L713.1 419.4 L714.7 418.3 L716.3 417.1 L718.0 416.0 L719.6 414.9 L721.2 413.9 L722.8 412.9 L724.4 411.9 L726.0 411.0 L727.6 410.1 L729.2 409.3 L730.7 408.6 L732.2 407.9 L733.7 407.2 L735.2 406.7 L736.6 406.2 L738.0 405.7 L738.6 405.6 L739.2 405.4 L739.8 405.2 L740.3 405.1 L740.9 404.9 L741.5 404.8 L742.0 404.6 L742.5 404.5 L743.1 404.4 L743.6 404.2 L744.1 404.1 L744.6 404.0 L745.1 403.9 L745.6 403.8 L746.1 403.6 L746.5 403.5 L747.0 403.4 L747.4 403.3 L747.9 403.2 L748.3 403.1 L748.7 402.9 L749.1 402.8 L749.4 402.7 L749.8 402.6 L751.0 401.9 L752.2 401.1 L753.2 400.1 L754.2 399.0 L754.9 397.7 L755.5 396.4 L755.9 395.1 L756.2 393.6 L756.2 392.2 L756.1 390.8" stroke-width="2.1" />
<path d="M681.4 507.6 L774.6 487.5 A6.5 6.5 0 0 0 771.8 474.7 L678.6 494.8 A6.5 6.5 0 0 0 681.4 507.6 Z" stroke-width="1.9" />
<path d="M756.1 390.8 L755.6 388.9 L754.7 387.1 L753.6 385.4 L752.1 384.0 L750.5 382.9 L748.7 382.1 L746.7 381.7 L744.7 381.6 L742.8 381.9 L740.9 382.5 L739.1 383.4 L737.6 384.7 L736.3 386.2 L735.3 387.9 L734.6 389.7 L734.2 391.7 L733.2 392.0 L732.1 392.2 L731.0 392.5 L729.8 392.8 L728.6 393.0 L727.4 393.3 L726.2 393.5 L724.9 393.8 L723.6 394.0 L722.3 394.3 L721.0 394.5 L719.7 394.7 L718.3 395.0 L717.0 395.2 L715.7 395.4 L714.3 395.6 L713.0 395.7 L711.7 395.9 L710.4 396.1 L709.1 396.2 L707.8 396.3 L706.5 396.4 L705.3 396.5 L704.1 396.6 L700.8 396.4 L697.1 396.2 L693.0 396.0 L688.7 395.7 L684.0 395.4 L679.1 395.1 L673.9 394.7 L668.6 394.3 L663.1 393.9 L657.5 393.5 L651.7 393.1 L645.9 392.7 L640.7 392.2 L635.4 391.7 L630.2 391.2 L625.1 390.8 L620.0 390.3 L615.0 389.9 L610.1 389.5 L605.4 389.0 L600.9 388.7 L596.6 388.3 L592.5 388.0 L588.7 387.7 L587.1 387.3 L585.6 386.9 L584.2 386.5 L582.8 386.0 L581.5 385.6 L580.2 385.0 L579.1 384.4 L578.0 383.8 L577.0 383.2 L576.0 382.5 L575.1 381.8 L574.3 381.0 L573.5 380.2 L572.8 379.3 L572.1 378.5 L571.5 377.5 L571.0 376.6 L570.5 375.6 L570.2 374.6 L569.9 373.5 L569.7 372.4 L569.5 371.2 L569.5 370.0 L569.5 368.8 L569.5 362.1 L569.7 355.5 L570.1 348.8 L570.8 342.2 L571.7 335.5 L572.8 328.9 L574.1 322.2 L575.7 315.6 L577.5 309.0 L579.5 302.3 L581.7 295.7 L584.2 289.1 L586.9 282.5 L589.8 275.8 L593.0 269.2 L596.3 262.6 L599.9 256.0 L603.8 249.4 L607.8 242.8 L612.1 236.2 L616.6 229.6 L621.3 223.0 L626.2 216.4 L631.4 209.8 L632.1 209.0 L632.8 208.3 L633.5 207.7 L634.2 207.1 L635.0 206.5 L635.7 206.1 L636.5 205.6 L637.2 205.3 L638.0 205.0 L638.8 204.7 L639.6 204.5 L640.3 204.3 L641.1 204.2 L641.9 204.1 L642.7 204.1 L643.5 204.2 L644.3 204.3 L645.1 204.4 L645.9 204.6 L646.8 204.9 L647.6 205.2 L648.4 205.5 L649.3 205.9 L650.1 206.4 L654.0 208.4 L658.0 210.6 L662.0 212.8 L666.1 215.1 L670.2 217.5 L674.3 219.9 L678.4 222.4 L682.6 224.9 L686.7 227.5 L690.9 230.1 L695.0 232.7 L699.0 235.2 L703.1 237.8 L707.2 240.6 L711.5 243.5 L715.7 246.4 L719.7 249.2 L723.7 251.9 L727.5 254.6 L731.2 257.1 L734.8 259.6 L738.1 261.9 L741.3 264.2 L744.3 266.2 L746.0 267.2 L747.7 268.2 L749.3 269.2 L751.0 270.2 L752.7 271.3 L754.4 272.4 L756.0 273.5 L757.6 274.7 L759.3 275.8 L760.8 277.0 L762.4 278.2 L763.9 279.4 L765.4 280.6 L766.9 281.9 L768.3 283.1 L769.7 284.3 L771.0 285.6 L772.2 286.8 L773.4 288.1 L774.5 289.3 L775.6 290.5 L776.6 291.7 L777.5 292.9 L778.4 294.1 L778.7 294.6 L779.1 295.1 L779.4 295.6 L779.7 296.1 L780.0 296.6 L780.4 297.1 L780.7 297.6 L781.0 298.1 L781.2 298.5 L781.5 299.0 L781.8 299.4 L782.1 299.9 L782.3 300.3 L782.6 300.7 L782.9 301.1 L783.1 301.6 L783.4 301.9 L783.6 302.3 L783.8 302.7 L784.1 303.1 L784.3 303.4 L784.6 303.7 L784.8 304.1 L785.0 304.4 L786.0 305.3 L787.2 306.2 L788.5 306.9 L789.8 307.4 L791.2 307.7 L792.6 307.9 L794.1 307.9 L795.5 307.6 L796.9 307.2 L798.2 306.7" stroke-width="2.1" />
<path d="M665.3 267.3 L713.7 352.0 A6.5 6.5 0 0 0 724.9 345.6 L676.5 260.9 A6.5 6.5 0 0 0 665.3 267.3 Z" stroke-width="1.9" />
<circle cx="835" cy="377.7" r="70" stroke-width="3.4"/>
<circle cx="835" cy="377.7" r="64.5" stroke-width="1.5"/>
<circle cx="835" cy="377.7" r="43.5" stroke-width="1.3" stroke-dasharray="14 4 2 4"/>
<circle cx="835" cy="377.7" r="21" stroke-width="1.5"/>
<circle cx="835" cy="377.7" r="18.8" stroke-width="1.2"/>
<circle cx="835" cy="377.7" r="16.5" stroke-width="1.5"/>
<line x1="556" y1="377.7" x2="1104" y2="377.7" stroke-width="1.3" stroke-dasharray="26 4 3 4"/>
<line x1="834" y1="95" x2="834" y2="648" stroke-width="1.3" stroke-dasharray="26 4 3 4"/>
<line x1="791.3" y1="59" x2="791.3" y2="378" stroke-width="1.4" />
<line x1="878.3" y1="59" x2="878.3" y2="378" stroke-width="1.4" />
<line x1="791.3" y1="58.8" x2="878.3" y2="58.8" stroke-width="1.3" />
<path d="M791.3 58.8 L800 56.5 L800 61 Z" stroke-width="1" fill="#111"/>
<path d="M878.3 58.8 L869.5 56.5 L869.5 61 Z" stroke-width="1" fill="#111"/>
<text  x="832.3" y="57" font-size="11" font-weight="normal" font-style="normal" font-family="'Liberation Sans', sans-serif" text-anchor="middle" textLength="24" lengthAdjust="spacingAndGlyphs" fill="#111" stroke="none">Ø58</text>
<text  x="834" y="75.8" font-size="10" font-weight="bold" font-style="normal" font-family="'Liberation Sans', sans-serif" text-anchor="middle" textLength="72" lengthAdjust="spacingAndGlyphs" fill="#111" stroke="none">N.4 FORI M4</text>
<path d="M831 300 L831 284 Q831 282.5 833 282.5 L838 282.5 Q840 282.5 840 284 L840 300" stroke-width="1.5" />
<path d="M827.5 328 L827.5 302 L842.7 302 L842.7 328" stroke-width="1.6" />
<path d="M823.2 318 L823.2 324 Q823.2 331.4 835 331.4 Q846.1 331.4 846.1 324 L846.1 318" stroke-width="1.4" />
<line x1="816" y1="323.8" x2="852" y2="323.8" stroke-width="1.2" stroke-dasharray="8 3"/>
<circle cx="778.2" cy="377.7" r="7.6" stroke-width="1.5" stroke="#555"/>
<circle cx="778.2" cy="377.7" r="4.3" stroke-width="1.2" stroke="#555"/>
<path d="M796 336 Q801 339 798 343 L788 362 Q785 366 782 363 Q780 361 782 357 L792 338 Q794 334 796 336 Z" stroke-width="1.4" />
<path d="M781 394 Q784 391 786 395 L800 416 Q802 420 799 422 Q796 423 794 420 L781 399 Q779 396 781 394 Z" stroke-width="1.4" />
<path d="M800 356 L806 355 L812 363 L812 374 M812 381 L811 397 L804 400 L799 404" stroke-width="1.4" />
<path d="M799 356 Q790 378 800 404" stroke-width="1.2" stroke="#555"/>
<path d="M813.2 331.6 L808.7 331.2 L806.1 334.9 L806.5 330.4 L802.8 327.8 L807.3 328.2 L809.9 324.5 L809.5 329.0 Z" fill="#111" stroke="#111" stroke-width="0.6"/>
<path d="M809.7 346.9 L805.2 346.5 L802.6 350.2 L803.0 345.7 L799.3 343.1 L803.8 343.5 L806.4 339.8 L806.0 344.3 Z" fill="#111" stroke="#111" stroke-width="0.6"/>
<path d="M831.3 341.6 L826.9 342.7 L825.8 347.1 L824.7 342.7 L820.3 341.6 L824.7 340.5 L825.8 336.1 L826.9 340.5 Z" fill="#111" stroke="#111" stroke-width="0.6"/>
<path d="M853.7 334.6 L849.2 333.8 L846.4 337.3 L847.2 332.8 L843.7 330.0 L848.2 330.8 L851.0 327.3 L850.2 331.8 Z" fill="#111" stroke="#111" stroke-width="0.6"/>
<path d="M869.6 348.6 L865.2 347.3 L862.0 350.6 L863.3 346.2 L860.0 343.1 L864.4 344.3 L867.5 341.0 L866.3 345.4 Z" fill="#111" stroke="#111" stroke-width="0.6"/>
<path d="M870.5 406.8 L867.2 409.9 L868.5 414.3 L865.3 411.0 L860.9 412.2 L864.2 409.1 L863.0 404.7 L866.1 408.0 Z" fill="#111" stroke="#111" stroke-width="0.6"/>
<path d="M831.3 413.8 L826.9 414.9 L825.8 419.3 L824.7 414.9 L820.3 413.8 L824.7 412.7 L825.8 408.3 L826.9 412.7 Z" fill="#111" stroke="#111" stroke-width="0.6"/>
<path d="M809.4 406.8 L805.7 409.4 L806.1 413.9 L803.5 410.2 L799.0 410.6 L802.7 408.0 L802.3 403.5 L804.9 407.2 Z" fill="#111" stroke="#111" stroke-width="0.6"/>
<path d="M813.8 423.4 L810.3 426.2 L811.1 430.7 L808.3 427.2 L803.8 428.0 L807.3 425.2 L806.5 420.7 L809.3 424.2 Z" fill="#111" stroke="#111" stroke-width="0.6"/>
<path d="M897.4 377.7 L890.8 379.1 L889.4 385.7 L888.0 379.1 L881.4 377.7 L888.0 376.3 L889.4 369.7 L890.8 376.3 Z" fill="#111" stroke="#111" stroke-width="0.6"/>
<circle cx="858" cy="336.5" r="3" stroke-width="1.5"/>
<path d="M807.1 298.5 A84 84 0 0 1 870.0 301.3" stroke-width="1.4" />
<path d="M882.7 308.6 L881.3 305.6 L879.6 302.9 L877.7 300.3 L875.7 297.8 L873.6 295.3 L871.3 292.9 L868.9 290.6 L866.4 288.4 L863.8 286.3 L861.1 284.3 L858.3 282.3 L855.3 280.5 L852.3 278.7 L849.1 277.1 L845.9 275.5 L842.6 274.1 L839.2 272.8 L835.7 271.6 L832.2 270.5 L828.6 269.6 L824.9 268.8 L821.2 268.1 L817.4 267.5 L813.5 267.1 L809.6 266.9 L805.7 266.7 L801.7 266.8 L797.7 266.9 L793.7 267.2 L789.7 267.7" stroke-width="1.4" />
<path d="M901.7 326.7 A84 84 0 0 1 918.4 387.4" stroke-width="1.4" />
<path d="M915.5 401.7 L917.8 399.4 L919.9 397.0 L921.8 394.4 L923.6 391.7 L925.3 388.9 L926.8 386.1 L928.3 383.1 L929.6 380.0 L930.8 376.9 L931.9 373.6 L932.9 370.3 L933.8 367.0 L934.5 363.5 L935.1 360.1 L935.5 356.5 L935.9 352.9 L936.1 349.3 L936.1 345.6 L936.1 341.9 L935.8 338.2 L935.5 334.4 L935.0 330.7 L934.3 326.9 L933.5 323.1 L932.6 319.3 L931.5 315.5 L930.2 311.8 L928.8 308.0 L927.3 304.3 L925.6 300.6" stroke-width="1.4" />
<path d="M904.1 425.4 A84 84 0 0 1 851.6 460.0" stroke-width="1.4" />
<path d="M837.1 461.7 L839.9 463.2 L842.9 464.4 L845.9 465.4 L849.0 466.3 L852.2 467.0 L855.4 467.6 L858.7 468.1 L862.0 468.4 L865.4 468.6 L868.8 468.6 L872.3 468.5 L875.7 468.3 L879.2 467.9 L882.7 467.4 L886.2 466.8 L889.7 466.0 L893.3 465.0 L896.8 464.0 L900.3 462.7 L903.7 461.4 L907.2 459.9 L910.6 458.2 L914.0 456.4 L917.4 454.5 L920.7 452.4 L923.9 450.2 L927.1 447.9 L930.3 445.4 L933.4 442.8 L936.4 440.1" stroke-width="1.4" />
<path d="M811.0 458.2 A84 84 0 0 1 761.8 418.9" stroke-width="1.4" />
<path d="M755.8 405.6 L755.2 408.8 L755.0 412.0 L754.9 415.2 L755.1 418.4 L755.4 421.7 L755.8 424.9 L756.4 428.2 L757.1 431.4 L758.0 434.7 L759.0 438.0 L760.1 441.2 L761.4 444.4 L762.8 447.6 L764.4 450.8 L766.1 453.9 L768.0 457.0 L769.9 460.1 L772.0 463.1 L774.3 466.0 L776.7 468.9 L779.2 471.8 L781.8 474.5 L784.5 477.2 L787.4 479.8 L790.4 482.3 L793.5 484.7 L796.7 487.0 L800.0 489.2 L803.5 491.4 L807.0 493.4" stroke-width="1.4" />
<path d="M751.0 379.8 A84 84 0 0 1 773.2 320.8" stroke-width="1.4" />
<path d="M784.0 311.0 L780.8 311.4 L777.7 312.2 L774.6 313.1 L771.6 314.3 L768.6 315.5 L765.6 317.0 L762.7 318.5 L759.8 320.2 L757.0 322.0 L754.2 324.0 L751.5 326.1 L748.8 328.3 L746.2 330.7 L743.7 333.1 L741.2 335.7 L738.8 338.5 L736.5 341.3 L734.3 344.2 L732.2 347.3 L730.2 350.4 L728.3 353.7 L726.5 357.0 L724.8 360.4 L723.2 364.0 L721.7 367.6 L720.4 371.3 L719.2 375.1 L718.1 378.9 L717.2 382.8 L716.4 386.8" stroke-width="1.4" />
<line x1="206" y1="59.5" x2="372.5" y2="59.5" stroke-width="1.4" />
<path d="M232.5 59.5 L224.5 61.8 L224.5 57.2 Z" stroke-width="1" fill="#111"/>
<path d="M235.5 59.5 L243.5 57.2 L243.5 61.8 Z" stroke-width="1" fill="#111"/>
<path d="M372.5 59.5 L364.5 61.8 L364.5 57.2 Z" stroke-width="1" fill="#111"/>
<text  x="209" y="57.5" font-size="11" font-weight="normal" font-style="normal" font-family="'Liberation Sans', sans-serif" text-anchor="middle" textLength="8" lengthAdjust="spacingAndGlyphs" fill="#111" stroke="none">2</text>
<text  x="303" y="57.5" font-size="11" font-weight="normal" font-style="normal" font-family="'Liberation Sans', sans-serif" text-anchor="middle" textLength="34" lengthAdjust="spacingAndGlyphs" fill="#111" stroke="none">89,8</text>
<line x1="232.5" y1="59.5" x2="232.5" y2="455" stroke-width="1.3" />
<line x1="235.5" y1="59.5" x2="235.5" y2="690.7" stroke-width="1.5" />
<line x1="372.5" y1="59.5" x2="372.5" y2="330" stroke-width="1.5" />
<line x1="312" y1="102.5" x2="435" y2="102.5" stroke-width="1.4" />
<line x1="435" y1="102.5" x2="435" y2="648.3" stroke-width="1.5" />
<path d="M435 102.5 L437.3 110.5 L432.7 110.5 Z" stroke-width="1" fill="#111"/>
<path d="M435 648.3 L432.7 640.3 L437.3 640.3 Z" stroke-width="1" fill="#111"/>
<line x1="326.7" y1="648.3" x2="436.7" y2="648.3" stroke-width="1.5" />
<text transform="translate(432,378) rotate(-90)" x="0" y="0" font-size="12" font-weight="normal" font-style="normal" font-family="'Liberation Sans', sans-serif" text-anchor="middle" textLength="54" lengthAdjust="spacingAndGlyphs" fill="#111" stroke="none">Ø353-2</text>
<line x1="190" y1="690.7" x2="376.7" y2="690.7" stroke-width="1.4" />
<path d="M235.5 690.7 L227.5 693.0 L227.5 688.4 Z" stroke-width="1" fill="#111"/>
<path d="M266.7 690.7 L274.7 688.4 L274.7 693.0 Z" stroke-width="1" fill="#111"/>
<path d="M376.7 690.7 L368.7 693.0 L368.7 688.4 Z" stroke-width="1" fill="#111"/>
<line x1="266.7" y1="593" x2="266.7" y2="690.7" stroke-width="1.4" />
<line x1="376.7" y1="593" x2="376.7" y2="690.7" stroke-width="1.4" />
<text  x="199" y="687.5" font-size="11" font-weight="normal" font-style="normal" font-family="'Liberation Sans', sans-serif" text-anchor="middle" textLength="18" lengthAdjust="spacingAndGlyphs" fill="#111" stroke="none">20</text>
<text  x="217" y="683" font-size="6.5" font-weight="bold" font-style="normal" font-family="'Liberation Sans', sans-serif" text-anchor="middle" textLength="10" lengthAdjust="spacingAndGlyphs" fill="#111" stroke="none">±2</text>
<text  x="320.5" y="687.5" font-size="11" font-weight="normal" font-style="normal" font-family="'Liberation Sans', sans-serif" text-anchor="middle" textLength="15" lengthAdjust="spacingAndGlyphs" fill="#111" stroke="none">72</text>
<path d="M324.7 296.5 C310 296, 296 293, 289 284 C285 278, 284 270, 283 260 L265.5 130 Q264 122, 272 117 Q312 95, 352 108 Q372 117, 376 133 L362 220 C358 250, 355 272, 350 288 C346 298, 340 305, 332 309" stroke-width="2.0" />
<path d="M297.8 271.4 C305 270, 312 271, 316 273 C324 277, 327 282, 327 290 L327 330" stroke-width="1.6" />
<path d="M327 180 Q330 173 335 180 Q322 215 315 270 M327 180 Q314 220 309.5 270" stroke-width="1.5" />
<path d="M283.3 487.5 C290 470, 296 460, 305 458 C312 456.5, 320 456.5, 327.3 456.8" stroke-width="2.0" />
<path d="M283.3 487.5 L266.7 623.3 Q331.7 675 376.7 620 L367.6 560 L357 500 C354 485, 347 473, 337 465.5" stroke-width="2.0" />
<path d="M327 456.5 L329.3 480 C327 486, 318 488, 306 486 C300 485, 297 483, 296.7 481.8" stroke-width="1.6" />
<path d="M310 493.3 Q308 489 313 490 Q317 535 340 568 Q344 574 338 575 Q313 540 310 493.3 Z" stroke-width="1.5" />
<rect x="236" y="311" width="13.5" height="130" stroke-width="1.6"/>
<rect x="249.5" y="305.2" width="11.1" height="141.8" rx="1.5" stroke-width="1.8"/>
<rect x="260.6" y="307.7" width="12.7" height="136.8" stroke-width="1.6"/>
<defs><pattern id="hat" width="3.2" height="7" patternUnits="userSpaceOnUse"><rect width="3.2" height="7" fill="#fff"/><rect x="0" width="1.4" height="7" fill="#151515"/><rect x="1.4" y="2" width="1.8" height="2.5" fill="#666"/></pattern></defs>
<rect x="273.3" y="307.7" width="36.5" height="136.8" fill="url(#hat)" stroke-width="1.8"/>
<rect x="281" y="330" width="22" height="114" fill="#1a1a1a" opacity="0.3" stroke="none"/>
<rect x="309.8" y="307.7" width="17.9" height="136.8" stroke-width="1.6"/>
<rect x="327.7" y="307.7" width="11" height="136.8" fill="url(#hat)" stroke-width="1.6"/>
<path d="M338.7 309.4 L349 309.4 L370 326 Q372.7 328 372.7 332 L372.7 422 Q372.7 426 370 430 L363 441 Q361 444.5 357 444.5 L338.7 444.5" stroke-width="1.8" />
<ellipse cx="0" cy="0" rx="4.6" ry="6" transform="translate(356,322) rotate(49.4)" stroke-width="1.5"/>
<ellipse cx="0" cy="0" rx="4.6" ry="6" transform="translate(356,336.5) rotate(59.5)" stroke-width="1.5"/>
<ellipse cx="0" cy="0" rx="4.6" ry="6" transform="translate(356,351) rotate(69.7)" stroke-width="1.5"/>
<ellipse cx="0" cy="0" rx="4.6" ry="6" transform="translate(356,365.5) rotate(79.8)" stroke-width="1.5"/>
<ellipse cx="0" cy="0" rx="4.6" ry="6" transform="translate(356,380) rotate(90.0)" stroke-width="1.5"/>
<ellipse cx="0" cy="0" rx="4.6" ry="6" transform="translate(356,394.5) rotate(100.2)" stroke-width="1.5"/>
<ellipse cx="0" cy="0" rx="4.6" ry="6" transform="translate(356,409) rotate(110.3)" stroke-width="1.5"/>
<ellipse cx="0" cy="0" rx="4.6" ry="6" transform="translate(356,423.5) rotate(120.5)" stroke-width="1.5"/>
<ellipse cx="0" cy="0" rx="4.6" ry="6" transform="translate(356,437) rotate(129.9)" stroke-width="1.5"/>
<path d="M296 308 L300 323 L316.6 326.4 L325 334 L327.7 330 L327.7 307 Z" stroke-width="1.6" fill="#fff"/>
<path d="M266 288 C285 322, 298 350, 309.4 376.8 C322 402, 345 428, 372 459 C365 446, 359 433, 355.8 425.2 C346 405, 337 390, 329.6 374.8 C318 352, 310 334, 301.4 320.3 C292 305, 282 296, 266 288 Z" stroke-width="1.5" fill="#fff"/>
<path d="M266 288 C285 322, 298 350, 309.4 376.8 C322 402, 345 428, 372 459" stroke-width="2.8" />
<line x1="225" y1="377.7" x2="378" y2="377.7" stroke-width="1.2" stroke-dasharray="14 3 3 3"/>
<path d="M237 306 L222 291 C208 276, 195 271, 183 271.5 C160 273, 147.3 290, 147.3 312 L147.3 418" stroke-width="1.8" />
<path d="M231.3 317.3 L216 302 C205 290, 195 281, 183 281.3 C165 282, 156.7 295, 156.7 313 L156.7 418" stroke-width="1.8" />
<path d="M147.3 424 L147.3 500 M156.7 424 L156.7 500" stroke-width="1.8" />
<path d="M147.3 417 Q147.5 422 152 420 Q156 418 156.7 414 M147.3 428 Q148 423 152 424 Q156.5 425 156.7 428" stroke-width="1.6" />
<line x1="233.8" y1="300" x2="233.8" y2="398" stroke-width="2.6" />
<path d="M215.3 300 L223.3 292 L235.3 302.7 L228 311 Z" stroke-width="1.6" fill="#fff"/>
<line x1="148" y1="500" x2="135" y2="630" stroke-width="1.9" />
<line x1="150" y1="500" x2="140" y2="630" stroke-width="1.9" />
<line x1="152" y1="500" x2="146" y2="630" stroke-width="1.9" />
<line x1="153" y1="500" x2="152" y2="630" stroke-width="1.9" />
<line x1="155" y1="500" x2="160" y2="630" stroke-width="1.9" />
<line x1="156" y1="500" x2="167" y2="630" stroke-width="1.9" />
<line x1="149" y1="500" x2="143" y2="630" stroke-width="1.1" stroke="#444"/>
<line x1="154" y1="500" x2="155" y2="630" stroke-width="1.1" stroke="#444"/>
<line x1="156" y1="500" x2="163" y2="630" stroke-width="1.1" stroke="#444"/>
<line x1="98" y1="500" x2="156" y2="500" stroke-width="1.3" />
<line x1="71.7" y1="630.7" x2="146.7" y2="630.7" stroke-width="1.3" />
<line x1="76.7" y1="350" x2="76.7" y2="630.7" stroke-width="1.3" />
<line x1="102.3" y1="500" x2="102.3" y2="630.7" stroke-width="1.3" />
<path d="M102.3 500 L104.3 507.0 L100.3 507.0 Z" stroke-width="1" fill="#111"/>
<path d="M102.3 630.7 L100.3 623.7 L104.3 623.7 Z" stroke-width="1" fill="#111"/>
<line x1="126.7" y1="540" x2="126.7" y2="645" stroke-width="1.3" />
<path d="M126.7 616.7 L124.7 609.7 L128.7 609.7 Z" stroke-width="1" fill="#111"/>
<path d="M126.7 630.7 L128.7 637.7 L124.7 637.7 Z" stroke-width="1" fill="#111"/>
<line x1="120" y1="616.7" x2="147" y2="616.7" stroke-width="1.2" />
<rect x="83.3" y="541.7" width="16" height="46.6" stroke-width="1.4"/>
<rect x="108.3" y="551.7" width="15.7" height="35" stroke-width="1.4"/>
<text transform="translate(95.5,565) rotate(-90)" x="0" y="0" font-size="11" font-weight="normal" font-style="normal" font-family="'Liberation Sans', sans-serif" text-anchor="middle" textLength="36" lengthAdjust="spacingAndGlyphs" fill="#111" stroke="none">85±2</text>
<text transform="translate(120.5,569) rotate(-90)" x="0" y="0" font-size="11" font-weight="normal" font-style="normal" font-family="'Liberation Sans', sans-serif" text-anchor="middle" textLength="26" lengthAdjust="spacingAndGlyphs" fill="#111" stroke="none">5÷7</text>
<rect x="65" y="548.3" width="10" height="65" fill="#222" stroke="none"/>
<text transform="translate(74,448) rotate(-90)" x="0" y="0" font-size="7" font-weight="bold" font-style="normal" font-family="'Liberation Sans', sans-serif" text-anchor="middle" textLength="195" lengthAdjust="spacingAndGlyphs" fill="#111" stroke="none">SI PROVVEDERA DATO DAL SUP. POSIZIONE</text>
<circle cx="249.2" cy="265.9" r="9.3" stroke-width="1.5" fill="#fff"/>
<text  x="249.2" y="269.9" font-size="11" font-weight="bold" font-style="normal" font-family="'Liberation Sans', sans-serif" text-anchor="middle" fill="#111" stroke="none">2</text>
<line x1="250" y1="275.5" x2="251" y2="300" stroke-width="1.2" />
<circle cx="190" cy="355.2" r="9.3" stroke-width="1.5" fill="#fff"/>
<text  x="190" y="359.2" font-size="11" font-weight="bold" font-style="normal" font-family="'Liberation Sans', sans-serif" text-anchor="middle" fill="#111" stroke="none">6</text>
<line x1="199.5" y1="356" x2="229" y2="359" stroke-width="1.2" />
<circle cx="190" cy="396" r="9.3" stroke-width="1.5" fill="#fff"/>
<text  x="190" y="400" font-size="11" font-weight="bold" font-style="normal" font-family="'Liberation Sans', sans-serif" text-anchor="middle" fill="#111" stroke="none">8</text>
<line x1="199" y1="393" x2="232" y2="378" stroke-width="1.2" />
<circle cx="190" cy="416" r="9.3" stroke-width="1.5" fill="#fff"/>
<text  x="190" y="420" font-size="11" font-weight="bold" font-style="normal" font-family="'Liberation Sans', sans-serif" text-anchor="middle" fill="#111" stroke="none">4</text>
<line x1="198" y1="411" x2="236" y2="380" stroke-width="1.2" />
<circle cx="190" cy="436" r="9.3" stroke-width="1.5" fill="#fff"/>
<text  x="190" y="440" font-size="11" font-weight="bold" font-style="normal" font-family="'Liberation Sans', sans-serif" text-anchor="middle" fill="#111" stroke="none">3</text>
<line x1="197" y1="430" x2="240" y2="382" stroke-width="1.2" />
<circle cx="371.3" cy="481.3" r="9.3" stroke-width="1.5" fill="#fff"/>
<text  x="371.3" y="485.3" font-size="11" font-weight="bold" font-style="normal" font-family="'Liberation Sans', sans-serif" text-anchor="middle" fill="#111" stroke="none">1</text>
<line x1="338.8" y1="448.2" x2="364" y2="474" stroke-width="1.2" />
<circle cx="1070.7" cy="67.5" r="9.3" stroke-width="1.5" fill="#fff"/>
<text  x="1070.7" y="71.5" font-size="11" font-weight="bold" font-style="normal" font-family="'Liberation Sans', sans-serif" text-anchor="middle" fill="#111" stroke="none">42</text>
<line x1="1078.7" y1="73.6" x2="1100.2" y2="91.7" stroke-width="1.3" />
<circle cx="1019" cy="455.4" r="9.3" stroke-width="1.5" fill="#fff"/>
<text  x="1019" y="459.4" font-size="11" font-weight="bold" font-style="normal" font-family="'Liberation Sans', sans-serif" text-anchor="middle" fill="#111" stroke="none">31</text>
<line x1="910" y1="407.6" x2="1010" y2="451" stroke-width="1.3" />
<path d="M1095.4 79.5 L1128 79.5 L1128 143 Q1128 145.6 1125 145.6 L1098 145.6 Q1095.4 145.6 1095.4 143 Z" stroke-width="2.0" />
<rect x="1101.3" y="69.1" width="6.8" height="10.4" stroke-width="1.5"/>
<rect x="1113.7" y="69.1" width="6.4" height="10.4" stroke-width="1.5"/>
<line x1="1111" y1="66" x2="1111" y2="166" stroke-width="1.2" stroke-dasharray="9 3 2 3"/>
<rect x="1102.6" y="145.6" width="16.7" height="8.7" stroke-width="1.5"/>
<rect x="1106.6" y="154.3" width="8.7" height="7.2" stroke-width="1.5"/>
<text  x="1112.5" y="187" font-size="13" font-weight="bold" font-style="normal" font-family="'Liberation Sans', sans-serif" text-anchor="middle" textLength="95" lengthAdjust="spacingAndGlyphs" fill="#111" stroke="none">FORNIRE A PARTE</text>
<rect x="563.5" y="685.6" width="465.5" height="37" stroke-width="2"/>
<text stroke="#111" stroke-width="0.5" x="571.9" y="701.25" font-size="16.5" font-weight="normal" font-style="normal" font-family="'Liberation Sans', sans-serif" text-anchor="start" textLength="177" lengthAdjust="spacingAndGlyphs" fill="#111" stroke="none">MOD. RO9E-3532P-4M-4211</text>
<text stroke="#111" stroke-width="0.5" x="785.4" y="701.25" font-size="16.5" font-weight="normal" font-style="normal" font-family="'Liberation Sans', sans-serif" text-anchor="start" textLength="70" lengthAdjust="spacingAndGlyphs" fill="#111" stroke="none">230/240V~</text>
<text stroke="#111" stroke-width="0.5" x="879" y="701.25" font-size="16.5" font-weight="normal" font-style="normal" font-family="'Liberation Sans', sans-serif" text-anchor="start" textLength="30" lengthAdjust="spacingAndGlyphs" fill="#111" stroke="none">50Hz</text>
<text stroke="#111" stroke-width="0.5" x="926" y="701.25" font-size="16.5" font-weight="normal" font-style="normal" font-family="'Liberation Sans', sans-serif" text-anchor="start" textLength="30" lengthAdjust="spacingAndGlyphs" fill="#111" stroke="none">110W</text>
<text stroke="#111" stroke-width="0.5" x="971" y="701.25" font-size="16.5" font-weight="normal" font-style="normal" font-family="'Liberation Sans', sans-serif" text-anchor="start" textLength="37" lengthAdjust="spacingAndGlyphs" fill="#111" stroke="none">0.48A</text>
<text stroke="#111" stroke-width="0.5" x="571.9" y="715.8" font-size="16.5" font-weight="normal" font-style="normal" font-family="'Liberation Sans', sans-serif" text-anchor="start" textLength="122" lengthAdjust="spacingAndGlyphs" fill="#111" stroke="none">TH.PROT. 1230 RPM</text>
<text stroke="#111" stroke-width="0.5" x="721.9" y="715.8" font-size="16.5" font-weight="normal" font-style="normal" font-family="'Liberation Sans', sans-serif" text-anchor="start" textLength="45" lengthAdjust="spacingAndGlyphs" fill="#111" stroke="none">C=2.5 pF</text>
<text stroke="#111" stroke-width="0.5" x="783" y="715.8" font-size="16.5" font-weight="normal" font-style="normal" font-family="'Liberation Sans', sans-serif" text-anchor="start" textLength="54" lengthAdjust="spacingAndGlyphs" fill="#111" stroke="none">450VL CL.B</text>
<text stroke="#111" stroke-width="0.5" x="865" y="715.8" font-size="16.5" font-weight="normal" font-style="normal" font-family="'Liberation Sans', sans-serif" text-anchor="start" textLength="27" lengthAdjust="spacingAndGlyphs" fill="#111" stroke="none">IP44</text>
<text stroke="#111" stroke-width="0.5" x="907.5" y="715.8" font-size="16.5" font-weight="normal" font-style="normal" font-family="'Liberation Sans', sans-serif" text-anchor="start" textLength="60" lengthAdjust="spacingAndGlyphs" fill="#111" stroke="none">4-IEN-042</text>
<text  x="988" y="715.8" font-size="8" font-weight="bold" font-style="normal" font-family="'Liberation Sans', sans-serif" text-anchor="start" textLength="31" lengthAdjust="spacingAndGlyphs" fill="#111" stroke="none">DATA</text>
<path d="M779 665 Q820 677 870 668" stroke-width="2.2" />
<path d="M888 666.5 L870.5 672.3 L869.7 664.3 Z" stroke-width="1" fill="#111"/>
<text stroke="#111" stroke-width="0.5" x="469.7" y="611.3" font-size="12.5" font-weight="normal" font-style="normal" font-family="'Liberation Sans', sans-serif" text-anchor="start" textLength="119.5" lengthAdjust="spacingAndGlyphs" fill="#111" stroke="none">FLUSSO ARIA</text>
<line x1="469.7" y1="616.3" x2="600" y2="616.3" stroke-width="2.2" />
<path d="M620.8 616.3 L596.8 620.3 L596.8 612.3 Z" stroke-width="1" fill="#111"/>
<text stroke="#111" stroke-width="0.5" x="488.3" y="633.3" font-size="12.5" font-weight="normal" font-style="normal" font-family="'Liberation Sans', sans-serif" text-anchor="start" textLength="86" lengthAdjust="spacingAndGlyphs" fill="#111" stroke="none">PREMENTE</text>
<text  x="186" y="767.6" font-size="33" font-weight="normal" font-style="normal" font-family="'Liberation Sans', sans-serif" text-anchor="start" textLength="181" lengthAdjust="spacingAndGlyphs" fill="#111" stroke="none">151900.7820</text>
</g>
</svg></body></html>
